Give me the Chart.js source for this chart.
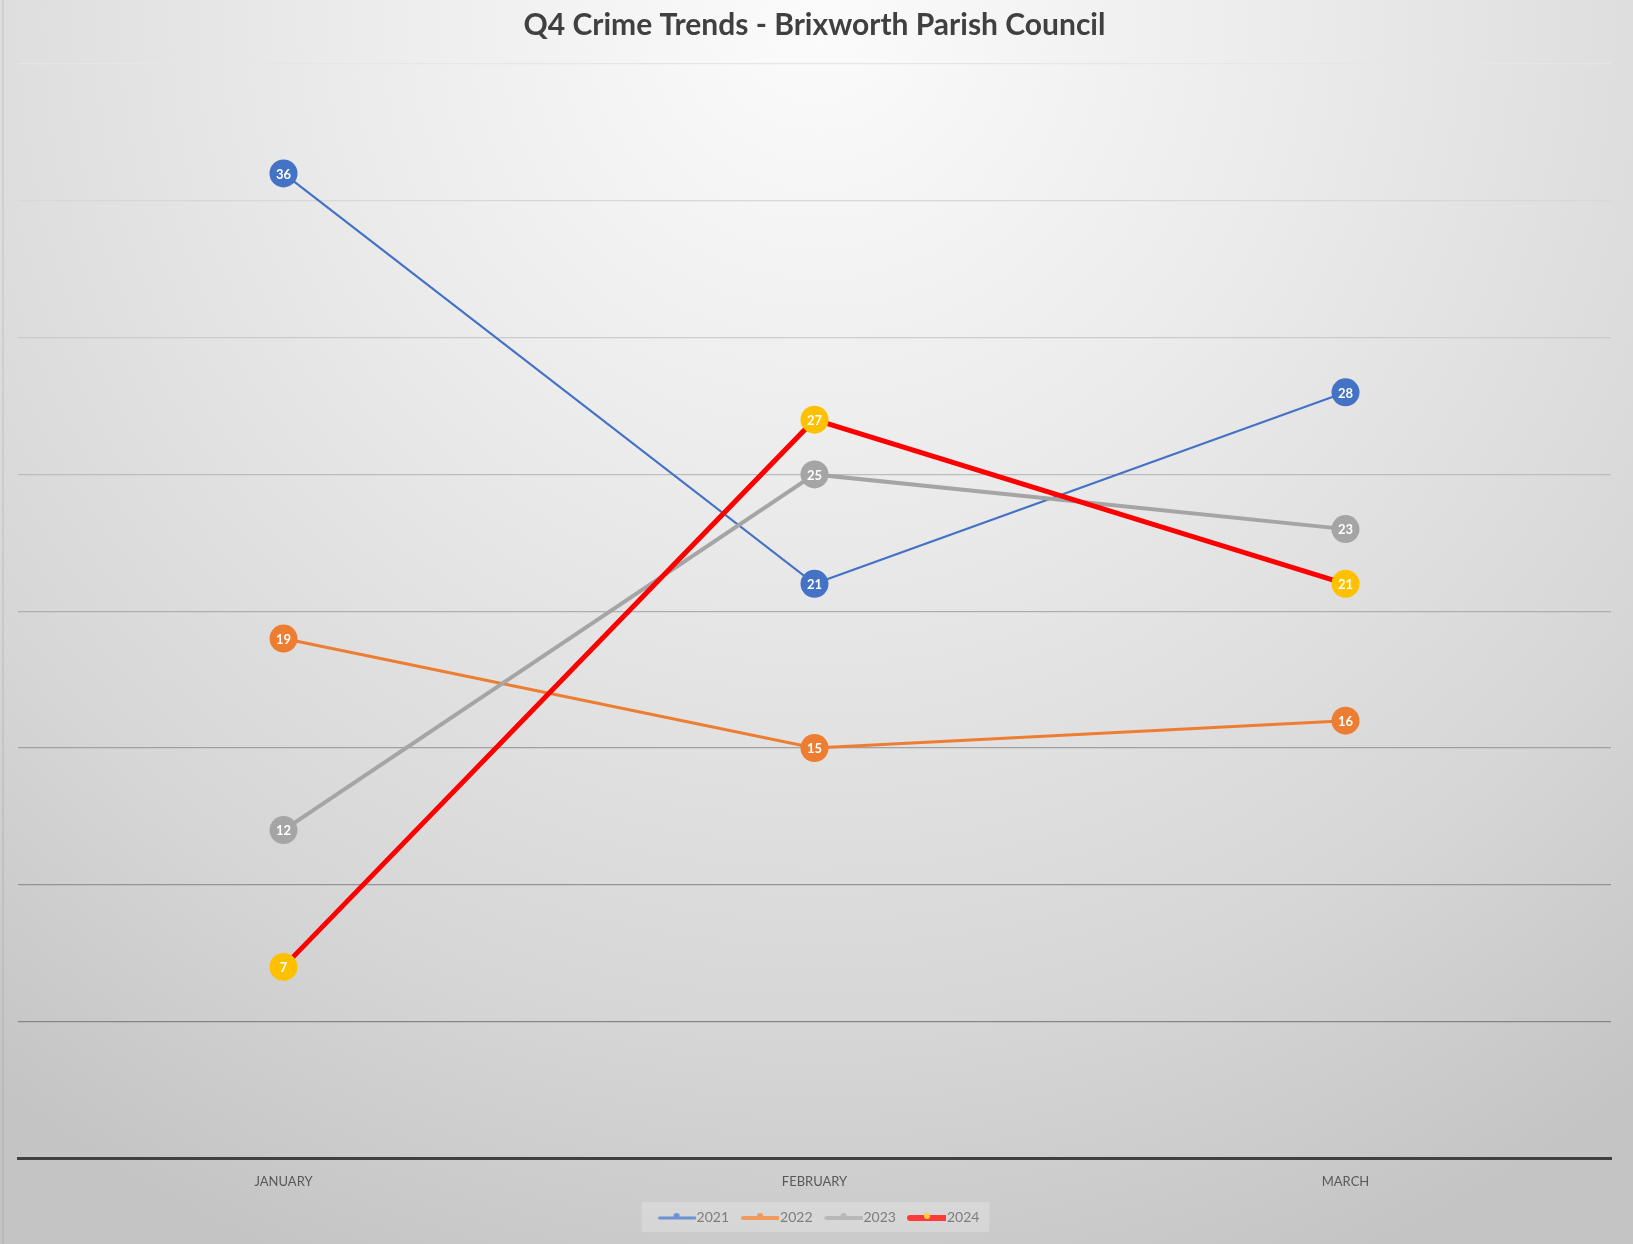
<!DOCTYPE html>
<html lang="en">
<head>
  <meta charset="UTF-8">
  <title>Q4 Crime Trends - Brixworth Parish Council</title>
  <script src="https://cdn.jsdelivr.net/npm/chart.js"></script>
  <style>
    html, body {
      margin: 0;
      padding: 0;
      background: #d0d0d0;
    }
    #wrap {
      width: 1633px;
      height: 1244px;
    }
  </style>
</head>
<body>
  <div id="wrap"><canvas id="crimeChart" width="1633" height="1244"></canvas></div>

  <script>
    // Data
    const months = ['JANUARY', 'FEBRUARY', 'MARCH'];
    const crimes2021 = [36, 21, 28];
    const crimes2022 = [19, 15, 16];
    const crimes2023 = [12, 25, 23];
    const crimes2024 = [7, 27, 21];
    const yTicks = [0, 5, 10, 15, 20, 25, 30, 35, 40];

    // little line+marker icons for the legend (drawn close to the text)
    function legendIcon(lineColor, lineWidth, dotColor) {
      const c = document.createElement('canvas');
      c.width = 52;
      c.height = 12;
      const ctx = c.getContext('2d');
      ctx.strokeStyle = lineColor;
      ctx.lineWidth = lineWidth;
      ctx.lineCap = 'round';
      ctx.beginPath();
      ctx.moveTo(16, 7);
      ctx.lineTo(51, 7);
      ctx.stroke();
      ctx.fillStyle = dotColor;
      ctx.beginPath();
      ctx.arc(33, 5, 3, 0, Math.PI * 2);
      ctx.fill();
      return c;
    }

    const legendIcons = [
      legendIcon('#4472C4', 3, '#4472C4'),
      legendIcon('#ED7D31', 4, '#ED7D31'),
      legendIcon('#A5A5A5', 4, '#A5A5A5'),
      legendIcon('#FF0000', 6, '#FFC000')
    ];

    const bgPlugin = {
      id: 'bg',
      beforeDraw(chart) {
        const ctx = chart.ctx;
        const w = chart.width, h = chart.height;
        ctx.save();
        const g = ctx.createRadialGradient(w / 2, 20, 10, w / 2, 20, 1350);
        g.addColorStop(0, '#fbfbfb');
        g.addColorStop(0.35, '#ebebeb');
        g.addColorStop(0.75, '#d6d6d6');
        g.addColorStop(1, '#c4c4c4');
        ctx.fillStyle = g;
        ctx.fillRect(0, 0, w, h);
        ctx.fillStyle = 'rgba(0,0,0,0.06)';
        ctx.fillRect(2, 0, 2, h);
        ctx.restore();
      },
      beforeDatasetsDraw(chart) {
        // light box behind the legend items
        const boxes = chart.legend && chart.legend.legendHitBoxes;
        if (!boxes || !boxes.length) return;
        const ctx = chart.ctx;
        const left = Math.min(...boxes.map(b => b.left)) - 8;
        const right = Math.max(...boxes.map(b => b.left + b.width)) + 10;
        const cy = boxes[0].top + boxes[0].height / 2;
        ctx.save();
        ctx.fillStyle = 'rgba(255,255,255,0.22)';
        ctx.fillRect(left, cy - 15, right - left, 30);
        ctx.restore();
      }
    };

    // white value labels inside the markers
    const valueLabels = {
      id: 'valueLabels',
      afterDatasetsDraw(chart) {
        const ctx = chart.ctx;
        ctx.save();
        ctx.font = 'bold 13px Lato, "Open Sans", sans-serif';
        ctx.fillStyle = '#ffffff';
        ctx.textAlign = 'center';
        ctx.textBaseline = 'middle';
        chart.data.datasets.forEach((ds, i) => {
          const meta = chart.getDatasetMeta(i);
          meta.data.forEach((pt, j) => {
            ctx.fillText(ds.data[j], pt.x, pt.y + 1);
          });
        });
        ctx.restore();
      }
    };

    const gridColor = ctx => {
      const v = ctx.tick ? ctx.tick.value : 0;
      if (v === 0) return 'rgba(0,0,0,0)';
      const shade = Math.round(120 + (v / 40) * 110);
      return `rgb(${shade},${shade},${shade})`;
    };

    function series(label, values, line, fill, width, order) {
      return {
        label: label,
        data: values,
        borderColor: line,
        backgroundColor: fill,
        borderWidth: width,
        pointStyle: 'circle',
        pointRadius: 14,
        pointHoverRadius: 14,
        pointBorderWidth: 0,
        pointBackgroundColor: fill,
        order: order
      };
    }

    new Chart(document.getElementById('crimeChart'), {
      type: 'line',
      data: {
        labels: months,
        datasets: [
          series('2021', crimes2021, '#4472C4', '#4472C4', 2.2, 4),
          series('2022', crimes2022, '#ED7D31', '#ED7D31', 3, 3),
          series('2023', crimes2023, '#A5A5A5', '#A5A5A5', 4, 2),
          series('2024', crimes2024, '#FF0000', '#FFC000', 5, 1)
        ]
      },
      options: {
        responsive: false,
        animation: false,
        layout: {
          padding: { left: 18, right: 22, top: 0, bottom: 10 }
        },
        elements: {
          line: { tension: 0 }
        },
        scales: {
          x: {
            offset: true,
            grid: { display: false, drawTicks: false },
            border: { display: true, color: '#404040', width: 3 },
            ticks: {
              padding: 16,
              color: '#595959',
              font: { family: 'Lato, "Open Sans", sans-serif', size: 13 }
            }
          },
          y: {
            min: 0,
            max: 40,
            afterBuildTicks: axis => {
              axis.ticks = yTicks.map(v => ({ value: v }));
            },
            ticks: { display: false },
            grid: { color: gridColor, lineWidth: 1.2, drawTicks: false },
            border: { display: false }
          }
        },
        plugins: {
          title: {
            display: true,
            text: 'Q4 Crime Trends - Brixworth Parish Council',
            color: '#404040',
            font: { family: 'Lato, "Open Sans", sans-serif', size: 30, weight: 'bold' },
            padding: { top: 7, bottom: 21 }
          },
          legend: {
            position: 'bottom',
            labels: {
              usePointStyle: true,
              pointStyleWidth: 40,
              padding: 4,
              color: '#595959',
              font: { family: 'Lato, "Open Sans", sans-serif', size: 14 },
              generateLabels: chart => chart.data.datasets.map((ds, i) => ({
                text: ds.label,
                datasetIndex: i,
                pointStyle: legendIcons[i],
                fillStyle: 'transparent',
                strokeStyle: 'transparent',
                lineWidth: 0,
                fontColor: '#595959',
                hidden: false
              }))
            }
          },
          tooltip: { enabled: false }
        }
      },
      plugins: [bgPlugin, valueLabels]
    });
  </script>
</body>
</html>
